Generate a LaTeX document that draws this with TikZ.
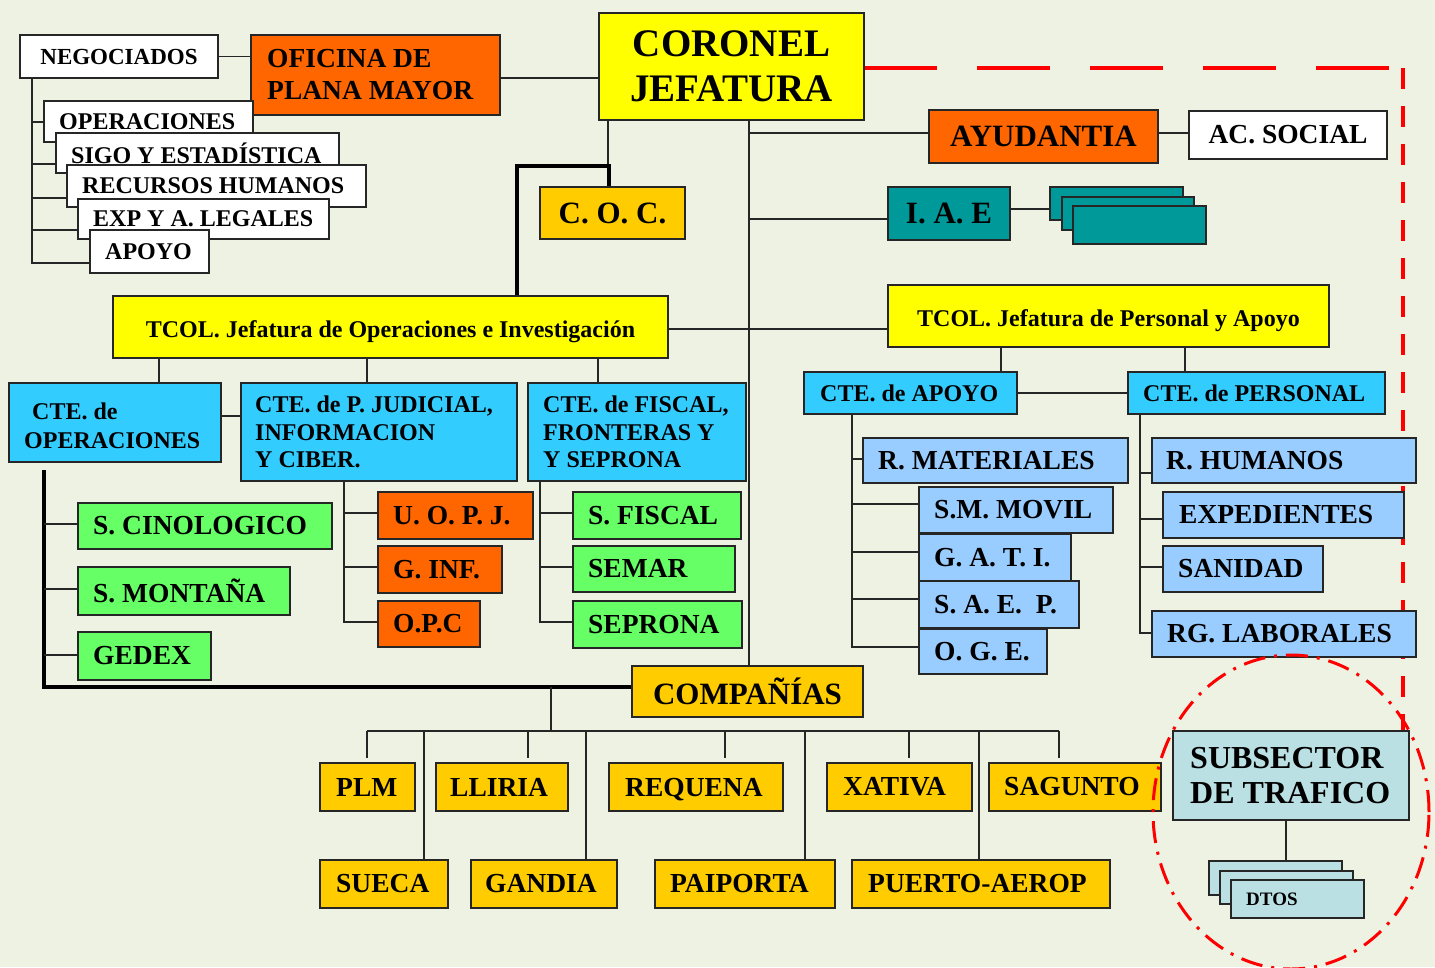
\documentclass[tikz,border=0pt]{standalone}
\usepackage{fontspec}
\setmainfont{Liberation Serif}
\usetikzlibrary{shapes.geometric}
\pgfdeclarelayer{back}
\pgfdeclarelayer{bg}
\pgfsetlayers{back,bg,main}
\definecolor{bgc}{RGB}{237,242,226}
\definecolor{yel}{RGB}{255,255,0}
\definecolor{org}{RGB}{255,102,0}
\definecolor{gold}{RGB}{255,204,0}
\definecolor{cya}{RGB}{51,204,255}
\definecolor{grn}{RGB}{102,255,102}
\definecolor{lbl}{RGB}{153,204,255}
\definecolor{tea}{RGB}{0,153,153}
\definecolor{subc}{RGB}{187,224,227}
\definecolor{rd}{RGB}{255,0,0}
\tikzset{
  bxs/.style={draw=black!85, line width=1.4pt, anchor=north west, inner sep=0pt, outer sep=0pt},
  txs/.style={inner sep=0pt, text=black},
  ln/.style={draw=black!85, line width=1.5pt},
  thk/.style={draw=black, line width=4.5pt},
  fW/.style={font=\bfseries\fontsize{24}{28}\selectfont},
  fA/.style={font=\bfseries\fontsize{24}{27.5}\selectfont},
  fB/.style={font=\bfseries\fontsize{27.5}{32}\selectfont},
  fC/.style={font=\bfseries\fontsize{31}{35}\selectfont},
  fD/.style={font=\bfseries\fontsize{39}{45}\selectfont},
  fS/.style={font=\bfseries\fontsize{32}{35}\selectfont},
  fT/.style={font=\bfseries\fontsize{19}{22}\selectfont},
  fN/.style={font=\bfseries\fontsize{23}{26}\selectfont},
}
% left-aligned box: [pad]{name}{x1}{y1}{x2}{y2}{fill}{text style}{text}
\newcommand\bx[9][15]{%
  \pgfmathsetmacro\bxw{#5-#3}\pgfmathsetmacro\bxh{#6-#4}%
  \node[bxs,fill=#7,minimum width=\bxw pt,minimum height=\bxh pt] (#2) at (#3,#4) {};
  \node[txs,#8,anchor=west,align=left] (#2t) at ([xshift=#1pt]#2.west) {#9};}
% centred box: {name}{x1}{y1}{x2}{y2}{fill}{text style}{text}
\newcommand\bxc[8]{%
  \pgfmathsetmacro\bxw{#4-#2}\pgfmathsetmacro\bxh{#5-#3}%
  \node[bxs,fill=#6,minimum width=\bxw pt,minimum height=\bxh pt] (#1) at (#2,#3) {};
  \node[txs,#7,align=center] (#1t) at (#1.center) {#8};}
% plain rectangle: {name}{x1}{y1}{x2}{y2}{fill}
\newcommand\rx[6]{%
  \pgfmathsetmacro\bxw{#4-#2}\pgfmathsetmacro\bxh{#5-#3}%
  \node[bxs,fill=#6,minimum width=\bxw pt,minimum height=\bxh pt] (#1) at (#2,#3) {};}
\begin{document}
\begin{tikzpicture}[x=1pt,y=-1pt]
\useasboundingbox (0,0) rectangle (1435,967);
\begin{pgfonlayer}{back}
\fill[bgc] (0,0) rectangle (1435,967);
\end{pgfonlayer}

% ---- top left
\bxc{neg}{20}{35}{218}{78}{white}{fN}{NEGOCIADOS}
\bx[16]{ofi}{251}{35}{500}{115}{org}{fB}{OFICINA DE\\PLANA MAYOR}
\bx{ope}{44}{101}{253}{142}{white}{fW}{OPERACIONES}
\bx{sigo}{56}{133}{339}{173}{white}{fW}{SIGO Y ESTADÍSTICA}
\bx{rrhh}{67}{165}{366}{207}{white}{fW}{RECURSOS HUMANOS}
\bx{expl}{78}{199}{329}{239}{white}{fW}{EXP Y A. LEGALES}
\bx{apo}{90}{230}{209}{273}{white}{fW}{APOYO}

% ---- top
\bxc{cor}{599}{13}{864}{120}{yel}{fD}{CORONEL\\JEFATURA}
\bxc{ayu}{929}{110}{1158}{163}{org}{fC}{AYUDANTIA}
\bxc{acs}{1189}{111}{1387}{159}{white}{fB}{AC. SOCIAL}
\bxc{coc}{540}{187}{685}{239}{gold}{fC}{C. O. C.}
\bxc{iae}{888}{187}{1010}{240}{tea}{fC}{I. A. E}
\rx{iaeA}{1050}{187}{1183}{220}{tea}
\rx{iaeB}{1062}{197}{1194}{230}{tea}
\rx{iaeC}{1073}{206}{1206}{244}{tea}

% ---- TCOL
\bxc{tops}{113}{296}{668}{358}{yel}{fA,yshift=-5pt}{TCOL. Jefatura de Operaciones e Investigación}
\bxc{tper}{888}{285}{1329}{347}{yel}{fA,yshift=-5pt}{TCOL. Jefatura de Personal y Apoyo}

% ---- operaciones side
\bx{cops}{9}{383}{221}{462}{cya}{fA,yshift=-3pt}{\hspace*{8pt}CTE. de\\[1.5pt]OPERACIONES}
\bx[14]{cpj}{241}{383}{517}{481}{cya}{fA}{CTE. de P. JUDICIAL,\\INFORMACION\\Y CIBER.}
\bx{cfis}{528}{383}{746}{481}{cya}{fA}{CTE. de FISCAL,\\FRONTERAS Y\\Y SEPRONA}
\bx{cino}{78}{503}{332}{549}{grn}{fB}{S. CINOLOGICO}
\bx{mont}{78}{567}{290}{615}{grn}{fB}{S. MONTAÑA}
\bx{gedex}{78}{632}{211}{680}{grn}{fB}{GEDEX}
\bx{uopj}{378}{492}{533}{539}{org}{fB}{U. O. P. J.}
\bx{ginf}{378}{546}{502}{593}{org}{fB}{G. INF.}
\bx{opc}{378}{601}{480}{647}{org}{fB}{O.P.C}
\bx{sfis}{573}{492}{741}{539}{grn}{fB}{S. FISCAL}
\bx{semar}{573}{546}{735}{592}{grn}{fB}{SEMAR}
\bx{sepr}{573}{601}{742}{648}{grn}{fB}{SEPRONA}

% ---- personal side
\bx[16]{capo}{804}{372}{1017}{414}{cya}{fA}{CTE. de APOYO}
\bx{cper}{1128}{372}{1385}{414}{cya}{fA}{CTE. de PERSONAL}
\bx{rmat}{863}{438}{1128}{483}{lbl}{fB}{R. MATERIALES}
\bx{smm}{919}{487}{1113}{533}{lbl}{fB}{S.M. MOVIL}
\bx{gati}{919}{534}{1071}{581}{lbl}{fB}{G. A. T. I.}
\bx{saep}{919}{581}{1079}{628}{lbl}{fB}{S. A. E.~~P.}
\bx{oge}{919}{629}{1047}{674}{lbl}{fB}{O. G. E.}
\bx[14]{rhum}{1152}{438}{1416}{483}{lbl}{fB}{R. HUMANOS}
\bx[16]{expd}{1163}{492}{1404}{538}{lbl}{fB}{EXPEDIENTES}
\bx{sani}{1163}{546}{1323}{592}{lbl}{fB}{SANIDAD}
\bx{rgl}{1152}{611}{1416}{657}{lbl}{fB}{RG. LABORALES}

% ---- companias
\bxc{comp}{632}{666}{863}{717}{gold}{fC}{COMPAÑÍAS}
\bx[16]{plm}{320}{763}{415}{811}{gold}{fB}{PLM}
\bx[14]{llir}{436}{763}{568}{811}{gold}{fB}{LLIRIA}
\bx[16]{requ}{609}{763}{783}{811}{gold}{fB,yshift=-2.5pt}{REQUENA}
\bx[16]{xat}{827}{763}{972}{811}{gold}{fB}{XATIVA}
\bx{sag}{989}{763}{1161}{811}{gold}{fB}{SAGUNTO}
\bx[16]{suec}{320}{860}{448}{908}{gold}{fB}{SUECA}
\bx[14]{gand}{471}{860}{617}{908}{gold}{fB}{GANDIA}
\bx{paip}{655}{860}{835}{908}{gold}{fB}{PAIPORTA}
\bx[16]{puer}{852}{860}{1110}{908}{gold}{fB}{PUERTO-AEROP}

% ---- subsector
\bx[17]{sub}{1173}{731}{1409}{820}{subc}{fS}{SUBSECTOR\\DE TRAFICO}
\rx{dA}{1209}{861}{1342}{895}{subc}
\rx{dB}{1220}{871}{1353}{904}{subc}
\bx{dC}{1231}{880}{1364}{918}{subc}{fT}{DTOS}

% ---- connectors (behind the boxes)
\begin{pgfonlayer}{bg}
\coordinate (rc) at (1403,68);
\draw[rd, line width=4.5pt, dash pattern=on 73pt off 40pt] (cor.east |- rc) -- (rc);
\draw[rd, line width=4.5pt, dash pattern=on 21pt off 17pt] (rc) -- (rc |- sub.north);

\draw[ln] (neg.east) -- (neg.east -| ofi.west);
\draw[ln] (ofi.east |- 0,78) -- (cor.west |- 0,78);
\draw[ln] (32,0 |- neg.south) -- (32,263) -- (apo.west |- 0,263);
\draw[ln] (32,122) -- (ope.west |- 0,122);
\draw[ln] (32,164) -- (sigo.west |- 0,164);
\draw[ln] (32,198) -- (rrhh.west |- 0,198);
\draw[ln] (32,230) -- (expl.west |- 0,230);

\draw[ln] (749,0 |- cor.south) -- (749,0 |- comp.north);
\draw[ln] (749,133) -- (ayu.west |- 0,133);
\draw[ln] (ayu.east |- 0,133) -- (acs.west |- 0,133);
\draw[ln] (749,219) -- (iae.west |- 0,219);
\draw[ln] (iae.east |- 0,209) -- (iaeA.west |- 0,209);
\draw[ln] (608,0 |- cor.south) -- (608,166);
\draw[thk] (609,0 |- coc.north) -- (609,166) -- (517,166) -- (517,0 |- tops.north);

\draw[ln] (tops.east |- 0,329) -- (tper.west |- 0,329);
\draw[ln] (159,0 |- tops.south) -- (159,0 |- cops.north);
\draw[ln] (367,0 |- tops.south) -- (367,0 |- cpj.north);
\draw[ln] (598,0 |- tops.south) -- (598,0 |- cfis.north);
\draw[ln] (cops.east |- 0,416) -- (cpj.west |- 0,416);

\draw[thk] (44,470) -- (44,687) -- (comp.west |- 0,687);
\draw[ln] (44,524) -- (cino.west |- 0,524);
\draw[ln] (44,589) -- (mont.west |- 0,589);
\draw[ln] (44,655) -- (gedex.west |- 0,655);

\draw[ln] (344,0 |- cpj.south) -- (344,622) -- (opc.west |- 0,622);
\draw[ln] (344,513) -- (uopj.west |- 0,513);
\draw[ln] (344,567) -- (ginf.west |- 0,567);
\draw[ln] (540,0 |- cfis.south) -- (540,622) -- (sepr.west |- 0,622);
\draw[ln] (540,513) -- (sfis.west |- 0,513);
\draw[ln] (540,567) -- (semar.west |- 0,567);

\draw[ln] (1001,0 |- tper.south) -- (1001,0 |- capo.north);
\draw[ln] (1185,0 |- tper.south) -- (1185,0 |- cper.north);
\draw[ln] (capo.east) -- (cper.west);
\draw[ln] (852,0 |- capo.south) -- (852,647) -- (oge.west |- 0,647);
\draw[ln] (852,459) -- (rmat.west |- 0,459);
\draw[ln] (852,504) -- (smm.west |- 0,504);
\draw[ln] (852,552) -- (gati.west |- 0,552);
\draw[ln] (852,599) -- (saep.west |- 0,599);
\draw[ln] (1140,0 |- cper.south) -- (1140,633) -- (rgl.west |- 0,633);
\draw[ln] (1140,473) -- (rhum.west |- 0,473);
\draw[ln] (1140,519) -- (expd.west |- 0,519);
\draw[ln] (1140,567) -- (sani.west |- 0,567);

\draw[ln] (551,687) -- (551,731);
\draw[ln] (367,731) -- (1059,731);
\draw[ln, shorten >=5pt] (367,731) -- (367,0 |- plm.north);
\draw[ln, shorten >=5pt] (528,731) -- (528,0 |- llir.north);
\draw[ln, shorten >=5pt] (725,731) -- (725,0 |- requ.north);
\draw[ln, shorten >=5pt] (909,731) -- (909,0 |- xat.north);
\draw[ln, shorten >=5pt] (1059,731) -- (1059,0 |- sag.north);
\draw[ln] (424,731) -- (424,0 |- suec.north);
\draw[ln] (586,731) -- (586,0 |- gand.north);
\draw[ln] (805,731) -- (805,0 |- paip.north);
\draw[ln] (979,731) -- (979,0 |- puer.north);

\draw[ln] (1286,0 |- sub.south) -- (1286,0 |- dA.north);
\end{pgfonlayer}

% ---- dash-dot circle round the subsector
\node[draw=rd, line width=3pt, dash pattern=on 22pt off 9pt on 3pt off 9pt, ellipse, minimum width=276pt, minimum height=314pt, inner sep=0pt] (circ) at (1291,812) {};
\end{tikzpicture}
\end{document}
